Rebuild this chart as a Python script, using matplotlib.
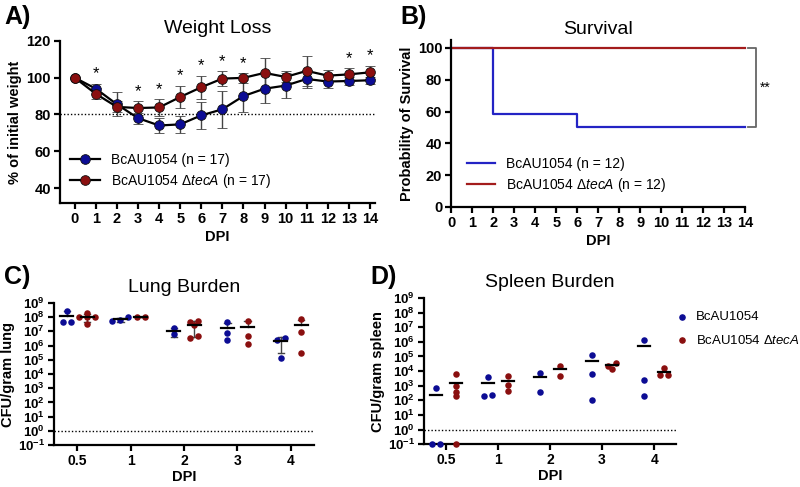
import numpy as np
import matplotlib
matplotlib.use('Agg')
import matplotlib.pyplot as plt
from matplotlib.lines import Line2D

plt.rcParams['font.family'] = ['Liberation Sans', 'DejaVu Sans']
plt.rcParams['mathtext.fontset'] = 'custom'
plt.rcParams['mathtext.rm'] = 'Liberation Sans'
plt.rcParams['mathtext.it'] = 'Liberation Sans:italic'
plt.rcParams['mathtext.bf'] = 'Liberation Sans:bold'

BLUE = '#0c0c94'
RED = '#8a0f0f'
BLUE_KM = '#2323c4'
RED_KM = '#a31c1c'

# ---- A) weight loss ----
days = np.arange(15)
wt_wt = [100, 94, 85.5, 78, 74, 74.6, 79.5, 82.8, 90, 94, 95.7, 99.3, 97.9, 98.2, 98.6]
wt_sd = [0, 2.8, 6.5, 3, 4.2, 4.8, 7.2, 10, 8.6, 8, 7, 5, 3.5, 2, 2]
mut_wt = [100, 91.2, 84.1, 83.5, 83.8, 89.5, 94.8, 99.5, 99.9, 102.6, 100.4, 103.7, 101.1, 101.8, 102.9]
mut_sd = [0, 3, 3, 3.8, 4.4, 6.2, 6.3, 4, 2.7, 8, 3, 8, 3.2, 3.5, 3.6]
star_days = [1, 3, 4, 5, 6, 7, 8, 13, 14]

# ---- B) survival ----
surv_days_wt = [0, 2, 6, 14]
surv_wt = [100, 58.33, 50, 50]
surv_days_mut = [0, 14]
surv_mut = [100, 100]

# ---- C/D) burden ----
groups = ['0.5', '1', '2', '3', '4']
lung_wt = [[2.8e8, 4.7e7, 4.7e7], [9.5e7, 5e7, 6e7], [1.6e7, 6.2e6],
           [4.2e7, 7.8e6, 2.4e6], [3.6e6, 2.4e6, 1.4e5]]
lung_mut = [[2.1e8, 1.0e8, 1.0e8, 1.0e8, 3.2e7], [1.0e8, 1.0e8],
            [5.5e7, 4.7e7, 2.6e7, 5e6, 3.5e6], [5.5e7, 5e6, 1.35e6],
            [7.4e7, 8.5e6, 2.9e5]]
spleen_wt = [[660, 0, 0], [4200, 210, 240], [6900, 400],
             [1.35e5, 6300, 105], [1.45e6, 2500, 190]]
spleen_mut = [[6600, 910, 360, 190, 0], [4600, 1050, 420], [2.4e4, 4400],
              [3.8e4, 1.3e4, 2.4e4], [1.6e4, 5400, 5400]]

fig = plt.figure(figsize=(8, 4.87), dpi=100)


def style(ax, size=10.5):
    for s in ['top', 'right']:
        ax.spines[s].set_visible(False)
    for s in ['left', 'bottom']:
        ax.spines[s].set_linewidth(1.6)
    ax.tick_params(width=1.6, length=4, labelsize=size, pad=2.5)
    for lab in ax.get_xticklabels() + ax.get_yticklabels():
        lab.set_fontweight('bold')


mut_label = 'BcAU1054 $\\mathit{Δ tecA}$'

# A
axA = fig.add_axes([0.075, 0.583, 0.394, 0.333])
axA.axhline(80, color='black', ls=(0, (1, 1.5)), lw=1)
for y, sd, col in [(wt_wt, wt_sd, BLUE), (mut_wt, mut_sd, RED)]:
    axA.errorbar(days, y, yerr=sd, color='black', ecolor='#444444', elinewidth=1,
                 capsize=3.5, lw=1.6, marker='o', ms=7, mfc=col, mec='#111111', mew=0.6,
                 zorder=3)
tops = np.maximum(np.array(wt_wt) + wt_sd, np.array(mut_wt) + mut_sd)
for d in star_days:
    axA.text(d, tops[d] + 1.2, '*', ha='center', va='bottom', fontsize=12)
axA.set_xlim(-0.7, 14.25)
axA.set_ylim(31.8, 120)
axA.set_yticks([40, 60, 80, 100, 120])
axA.set_xticks(days)
axA.set_xlabel('DPI', fontweight='bold', fontsize=10.5, labelpad=3)
axA.set_ylabel('% of initial weight', fontweight='bold', fontsize=10.5, labelpad=3)
axA.set_title('Weight Loss', fontsize=14, pad=6)
style(axA)
hA = [Line2D([], [], color='black', lw=1.6, marker='o', ms=7, mfc=c, mec='#111111', mew=0.6)
      for c in (BLUE, RED)]
axA.legend(hA, ['BcAU1054 (n = 17)', mut_label + ' (n = 17)'], loc='lower left',
           frameon=False, fontsize=10, bbox_to_anchor=(0.0, 0.02),
           handlelength=2.2, borderaxespad=0.3, labelspacing=0.35)
fig.text(0.005, 0.99, 'A)', fontsize=18, fontweight='bold', va='top')

# B
axB = fig.add_axes([0.564, 0.575, 0.3675, 0.343])
axB.step(surv_days_wt, surv_wt, where='post', color=BLUE_KM, lw=1.6,
         label='BcAU1054 (n = 12)', clip_on=False)
axB.step(surv_days_mut, surv_mut, where='post', color=RED_KM, lw=1.6,
         label=mut_label + ' (n = 12)', clip_on=False)
axB.plot([14.15, 14.5, 14.5, 14.15], [surv_mut[-1], surv_mut[-1], surv_wt[-1], surv_wt[-1]],
         color='#666666', lw=1.3, clip_on=False)
axB.text(14.7, (surv_mut[-1] + surv_wt[-1]) / 2, '**', ha='left', va='center', fontsize=10)
axB.set_xlim(0, 14)
axB.set_ylim(0, 105)
axB.set_yticks([0, 20, 40, 60, 80, 100])
axB.set_xticks(days)
axB.set_xlabel('DPI', fontweight='bold', fontsize=10.5, labelpad=3)
axB.set_ylabel('Probability of Survival', fontweight='bold', fontsize=10.5, labelpad=3)
axB.set_title('Survival', fontsize=14, pad=4)
style(axB)
axB.legend(loc='lower left', frameon=False, fontsize=10, bbox_to_anchor=(0.02, 0.02),
           handlelength=2.0, borderaxespad=0.3, labelspacing=0.35)
fig.text(0.5, 0.99, 'B)', fontsize=18, fontweight='bold', va='top')


def swarm(vals, spacing):
    lv = np.log10(vals)
    order = np.argsort(lv)
    offs = np.zeros(len(vals))
    cluster = [order[0]]
    clusters = []
    for i in order[1:]:
        if lv[i] - lv[cluster[-1]] < 0.25:
            cluster.append(i)
        else:
            clusters.append(cluster)
            cluster = [i]
    clusters.append(cluster)
    for c in clusters:
        k = len(c)
        for j, idx in enumerate(c):
            offs[idx] = (j - (k - 1) / 2) * spacing
    return offs


def burden(ax, wt, mut, ylab, title, errbars):
    for gi in range(len(groups)):
        for vals, col, shift in [(wt[gi], BLUE, -0.19), (mut[gi], RED, 0.19)]:
            v = np.array(vals, dtype=float)
            plotv = np.where(v > 0, v, 0.1)
            x = gi + shift + swarm(plotv, 0.15)
            ax.scatter(x, plotv, s=22, color=col, zorder=3, clip_on=False, lw=0)
            m = v.mean()
            ax.plot([gi + shift - 0.12, gi + shift + 0.12], [m, m], color='black', lw=1.6, zorder=4)
            if errbars:
                sd = v.std(ddof=1)
                lo = m - sd if m - sd > 0 else m
                ax.plot([gi + shift, gi + shift], [lo, m + sd], color='#444444', lw=1, zorder=2)
                ends = [m + sd] + ([m - sd] if m - sd > 0 else [])
                for yy in ends:
                    ax.plot([gi + shift - 0.06, gi + shift + 0.06], [yy, yy], color='#444444', lw=1, zorder=2)
    ax.axhline(1, color='black', ls=(0, (1, 1.5)), lw=1)
    ax.set_yscale('log')
    ax.set_ylim(0.1, 1e9)
    ax.set_yticks([10.0 ** k for k in range(-1, 10)])
    ax.set_yticklabels(['$\\mathbf{10^{%d}}$' % k for k in range(-1, 10)])
    ax.minorticks_off()
    ax.set_xticks(range(len(groups)))
    ax.set_xticklabels(groups)
    ax.set_xlabel('DPI', fontweight='bold', fontsize=10.5, labelpad=1)
    ax.set_ylabel(ylab, fontweight='bold', fontsize=10.5, labelpad=2)
    ax.set_title(title, fontsize=14, pad=8)
    style(ax, 9.5)
    ax.tick_params(axis='x', labelsize=10)


axC = fig.add_axes([0.0675, 0.086, 0.325, 0.292])
burden(axC, lung_wt, lung_mut, 'CFU/gram lung', 'Lung Burden', True)
axC.set_xlim(-0.43, 4.43)
fig.text(0.005, 0.455, 'C)', fontsize=18, fontweight='bold', va='top')

axD = fig.add_axes([0.53, 0.088, 0.315, 0.300])
burden(axD, spleen_wt, spleen_mut, 'CFU/gram spleen', 'Spleen Burden', False)
axD.set_xlim(-0.42, 4.42)
fig.text(0.463, 0.455, 'D)', fontsize=18, fontweight='bold', va='top')

h1 = axD.scatter([], [], s=14, color=BLUE)
h2 = axD.scatter([], [], s=14, color=RED)
fig.legend([h1, h2], ['BcAU1054', mut_label], loc='upper left', frameon=False,
           bbox_to_anchor=(0.83, 0.378), fontsize=9.5, handletextpad=0.3,
           labelspacing=0.8, borderaxespad=0.2, handlelength=1.5)

fig.savefig('out.png', dpi=100)
